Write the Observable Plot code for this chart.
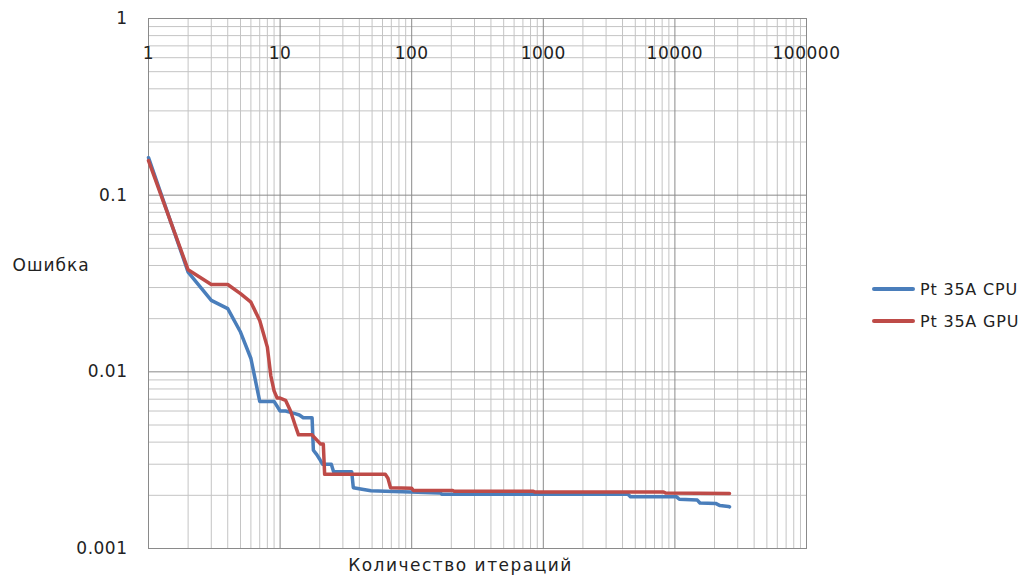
<!DOCTYPE html>
<html>
<head>
<meta charset="utf-8">
<script src="https://cdn.jsdelivr.net/npm/d3@7"></script>
<script src="https://cdn.jsdelivr.net/npm/@observablehq/plot@0.6"></script>
<style>
  html, body { margin: 0; padding: 0; background: #fff; }
  #wrap { position: relative; width: 1024px; height: 581px; }
  .ticklab text, text.ticklab { letter-spacing: 0.5px; }
  .legend { position: absolute; left: 872px; top: 273px; font-family: "DejaVu Sans", sans-serif; font-size: 16px; letter-spacing: 0.8px; color: #222; }
  .legend .item { display: flex; align-items: center; height: 32px; }
  .legend .sw { width: 43px; height: 4px; margin-right: 5px; border-radius: 2px; }
</style>
</head>
<body>
<div id="wrap"></div>
<script>
// Iterations (x) and error (y)
const cpuIter = [1, 2, 3, 4, 5, 6, 7, 8, 9, 10, 11, 12, 13, 14, 15, 16, 17.5, 17.9, 19, 20, 21, 24.5, 25.5, 35, 36, 49, 63, 98, 165, 170, 4400, 4600, 10300, 10800, 14800, 15500, 20400, 22000, 25500, 26000];
const cpuErr  = [0.163, 0.0367, 0.0254, 0.0228, 0.0168, 0.0119, 0.0068, 0.0068, 0.0068, 0.0060, 0.0060, 0.0059, 0.0058, 0.0057, 0.0055, 0.0055, 0.0055, 0.0036, 0.0034, 0.0032, 0.0030, 0.0030, 0.00272, 0.00272, 0.00221, 0.00212, 0.00211, 0.00209, 0.00206, 0.00203, 0.00203, 0.00196, 0.00196, 0.00190, 0.00188, 0.00181, 0.00180, 0.00175, 0.00173, 0.00172];

const gpuIter = [1, 2, 3, 4, 5, 6, 7, 8, 8.5, 9, 9.5, 10, 11, 12, 13, 13.8, 17.5, 20.3, 21.3, 21.8, 63, 66, 69, 100, 103, 205, 210, 840, 860, 8200, 8500, 26000];
const gpuErr  = [0.157, 0.0378, 0.0312, 0.0312, 0.0277, 0.0248, 0.0195, 0.0138, 0.0095, 0.0078, 0.0071, 0.0071, 0.0069, 0.0060, 0.0050, 0.0044, 0.0044, 0.0039, 0.0039, 0.00263, 0.00263, 0.0025, 0.00221, 0.00219, 0.00213, 0.00213, 0.00211, 0.00211, 0.00209, 0.00209, 0.00206, 0.00205];

const seriesNames = ["Pt 35A CPU", "Pt 35A GPU"];
const seriesColors = ["#4A7EBB", "#BE4B48"];

const xTicks = [1, 10, 100, 1000, 10000, 100000];
const yTicks = [1, 0.1, 0.01, 0.001];

const xTitle = "Количество итераций";
const yTitle = "Ошибка";

const cpu = cpuIter.map((x, i) => ({x, y: cpuErr[i]}));
const gpu = gpuIter.map((x, i) => ({x, y: gpuErr[i]}));

// minor/major grid positions (decade multiples)
const minorX = [], minorY = [];
for (let e = 0; e < 5; e++) for (let m = 2; m <= 9; m++) minorX.push(m * 10 ** e);
for (let e = -3; e < 0; e++) for (let m = 2; m <= 9; m++) minorY.push(m * 10 ** e);

const chart = Plot.plot({
  width: 1024,
  height: 581,
  marginLeft: 148,
  marginRight: 218,
  marginTop: 18,
  marginBottom: 33,
  style: { fontFamily: "DejaVu Sans, sans-serif", fontSize: "17px", color: "#222", background: "#fff" },
  x: { type: "log", domain: [1, 100000] },
  y: { type: "log", domain: [0.001, 1] },
  marks: [
    Plot.ruleX(minorX, { stroke: "#c4c4c4", strokeWidth: 1 }),
    Plot.ruleY(minorY, { stroke: "#c4c4c4", strokeWidth: 1 }),
    Plot.ruleX(xTicks, { stroke: "#8a8a8a", strokeWidth: 1 }),
    Plot.ruleY(yTicks, { stroke: "#8a8a8a", strokeWidth: 1 }),
    Plot.frame({ stroke: "#8a8a8a" }),
    Plot.axisY(yTicks, { anchor: "left", tickSize: 0, tickPadding: 21, tickFormat: d => String(d), label: null, fontSize: 17, className: "ticklab" }),
    Plot.axisX(xTicks, { anchor: "bottom", tickSize: 0, tickFormat: () => "", label: null }),
    Plot.text(xTicks, { x: d => d, frameAnchor: "top", dy: 28, text: d => String(d), fontSize: 17, className: "ticklab" }),
    Plot.text([yTitle], { frameAnchor: "left", dx: -136, dy: -18, textAnchor: "start", text: d => d, fontSize: 17, className: "ytitle" }),
    Plot.text([xTitle], { frameAnchor: "bottom", dx: -17, dy: 22, text: d => d, fontSize: 17, className: "xtitle" }),
    Plot.line(cpu, { x: "x", y: "y", stroke: seriesColors[0], strokeWidth: 3.5, curve: "linear" }),
    Plot.line(gpu, { x: "x", y: "y", stroke: seriesColors[1], strokeWidth: 3.5, curve: "linear" })
  ]
});

chart.querySelectorAll(".ytitle text, text.ytitle").forEach(t => t.setAttribute("letter-spacing", "1px"));
chart.querySelectorAll(".xtitle text, text.xtitle").forEach(t => t.setAttribute("letter-spacing", "1.5px"));

const wrap = document.getElementById("wrap");
wrap.appendChild(chart);

const legend = document.createElement("div");
legend.className = "legend";
seriesNames.forEach((name, i) => {
  const item = document.createElement("div");
  item.className = "item";
  const sw = document.createElement("span");
  sw.className = "sw";
  sw.style.background = seriesColors[i];
  const label = document.createElement("span");
  label.textContent = name;
  item.appendChild(sw);
  item.appendChild(label);
  legend.appendChild(item);
});
wrap.appendChild(legend);
</script>
</body>
</html>
